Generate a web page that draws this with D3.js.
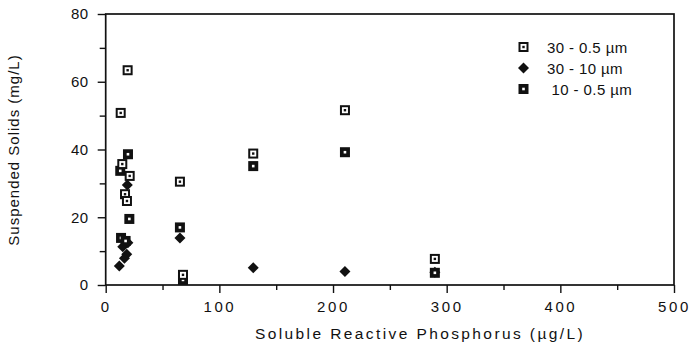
<!DOCTYPE html>
<html><head><meta charset="utf-8">
<script src="https://cdn.jsdelivr.net/npm/d3@7/dist/d3.min.js"></script>
<style>
body{margin:0;background:#fff;}
text{font-family:"Liberation Sans",Arial,Helvetica,sans-serif;fill:#111;}
</style></head>
<body><svg id="c" width="690" height="346"></svg>
<script>
// Series: 30 - 0.5 µm (open squares)
const x30_05 = [19.3, 13.2, 14.6, 21.1, 17.0, 18.7, 65.3, 68.0, 129.8, 210.5, 289.6];
const y30_05 = [63.4, 50.8, 35.7, 32.2, 26.8, 24.8, 30.5, 3.0, 38.8, 51.6, 7.7];
// Series: 30 - 10 µm (diamonds)
const x30_10 = [19.0, 15.0, 18.5, 16.5, 12.0, 19.5, 65.3, 129.8, 210.5, 289.6];
const y30_10 = [29.5, 11.3, 9.1, 7.9, 5.6, 12.5, 13.9, 5.1, 4.0, 3.8];
// Series: 10 - 0.5 µm (filled squares)
const x10_05 = [19.6, 12.8, 20.8, 13.5, 17.5, 65.3, 68.0, 129.8, 210.5, 289.6];
const y10_05 = [38.6, 33.7, 19.5, 13.9, 13.0, 17.0, 1.5, 35.1, 39.2, 3.6];

const xTicks = [0, 100, 200, 300, 400, 500];
const xMinor = [50, 150, 250, 350, 450];
const yTicks = [0, 20, 40, 60, 80];
const yMinor = [10, 30, 50, 70];
const legendLabels = ["30 - 0.5 \u00b5m", "30 - 10 \u00b5m", " 10 - 0.5 \u00b5m"];

const svg = d3.select("#c");
const L = 105.7, R = 674, T = 14, B = 285;
const x = d3.scaleLinear().domain([0, 500]).range([L, R]);
const y = d3.scaleLinear().domain([0, 80]).range([B, T]);

// frame
svg.append("rect").attr("x", L).attr("y", T).attr("width", R - L).attr("height", B - T)
  .attr("fill", "none").attr("stroke", "#111").attr("stroke-width", 1.7);

// x axis
const gx = svg.append("g").attr("transform", `translate(0,${B})`);
gx.call(d3.axisBottom(x).tickValues(xTicks).tickSize(8).tickFormat(d3.format("d")));
gx.append("g").call(d3.axisBottom(x).tickValues(xMinor).tickSize(5).tickFormat(""));
gx.selectAll(".domain").remove();
gx.selectAll("line").attr("stroke", "#111").attr("stroke-width", 1.4);
gx.selectAll("text").attr("font-size", 15).attr("dy", "1.05em").attr("letter-spacing", "2.6px")
  .style("font-family", '"Liberation Sans",Arial,sans-serif').attr("fill", "#111");

// y axis
const gy = svg.append("g").attr("transform", `translate(${L},0)`);
gy.call(d3.axisLeft(y).tickValues(yTicks).tickSize(8).tickPadding(9).tickFormat(d3.format("d")));
gy.append("g").call(d3.axisLeft(y).tickValues(yMinor).tickSize(6).tickFormat(""));
gy.selectAll(".domain").remove();
gy.selectAll("line").attr("stroke", "#111").attr("stroke-width", 1.4);
gy.selectAll("text").attr("font-size", 15).attr("letter-spacing", "0.5px")
  .style("font-family", '"Liberation Sans",Arial,sans-serif').attr("fill", "#111");

// axis titles
svg.append("text").attr("x", 420).attr("y", 339).attr("text-anchor", "middle")
  .attr("font-size", 15.5).attr("letter-spacing", "2.4px")
  .text("Soluble Reactive Phosphorus (\u00b5g/L)");
svg.append("text").attr("transform", "translate(19,150) rotate(-90)").attr("text-anchor", "middle")
  .attr("font-size", 15).attr("letter-spacing", "1px")
  .text("Suspended Solids (mg/L)");

// markers
const S = 10;
function openSq(g, cx, cy) {
  g.append("rect").attr("x", cx - S/2 + 1).attr("y", cy - S/2 + 1).attr("width", S - 2).attr("height", S - 2)
    .attr("fill", "#fff").attr("stroke", "#111").attr("stroke-width", 2);
  g.append("rect").attr("x", cx - 1.2).attr("y", cy - 1.2).attr("width", 2.4).attr("height", 2.4).attr("fill", "#111");
}
function fillSq(g, cx, cy) {
  g.append("rect").attr("x", cx - S/2).attr("y", cy - S/2).attr("width", S).attr("height", S).attr("fill", "#111");
  g.append("rect").attr("x", cx - 1.3).attr("y", cy - 1.3).attr("width", 2.6).attr("height", 2.6).attr("fill", "#fff");
}
function diamond(g, cx, cy) {
  const r = 5.5;
  g.append("path").attr("d", `M${cx},${cy - r}L${cx + r},${cy}L${cx},${cy + r}L${cx - r},${cy}Z`).attr("fill", "#111");
}

const gm = svg.append("g");
x30_10.forEach((v, i) => diamond(gm, x(v), y(y30_10[i])));
x10_05.forEach((v, i) => fillSq(gm, x(v), y(y10_05[i])));
x30_05.forEach((v, i) => openSq(gm, x(v), y(y30_05[i])));

// legend
const lg = svg.append("g");
const ly = [47, 68, 89];
const drawers = [openSq, diamond, fillSq];
legendLabels.forEach((t, i) => {
  drawers[i](lg, 523.5, ly[i]);
  lg.append("text").attr("x", 547).attr("y", ly[i] + 5.5).attr("font-size", 15)
    .attr("letter-spacing", "0.4px").attr("xml:space", "preserve").style("white-space", "pre").text(t);
});
</script></body></html>
